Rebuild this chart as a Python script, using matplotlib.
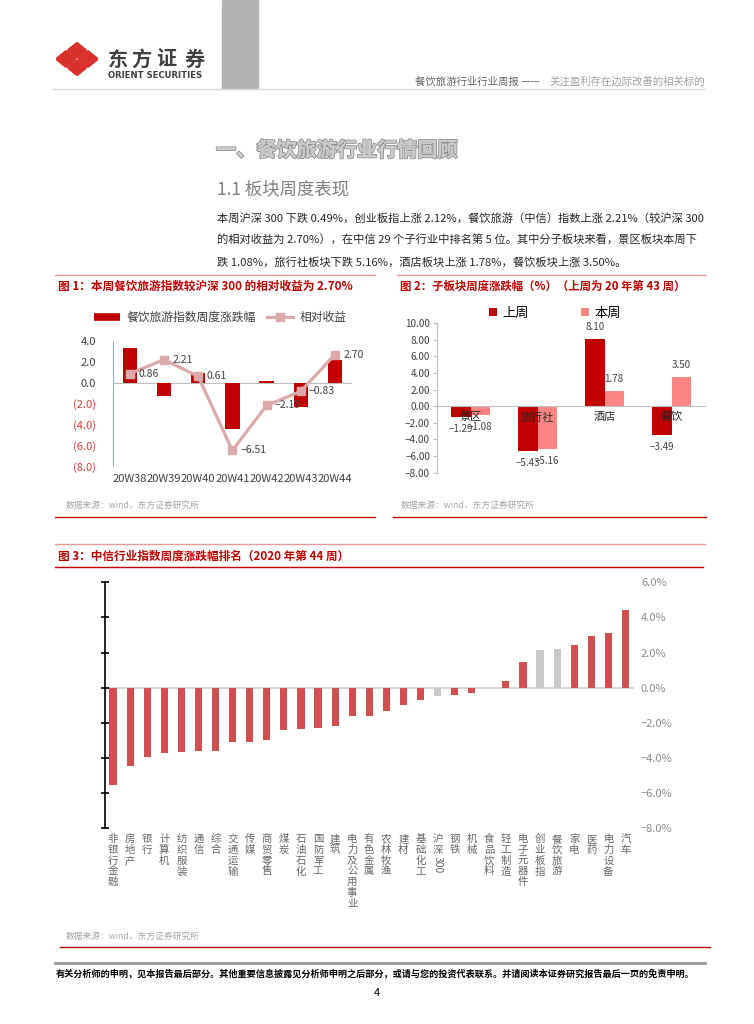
import matplotlib
matplotlib.use('Agg')
import matplotlib.pyplot as plt
import matplotlib.transforms as mtransforms
import matplotlib.patheffects as pe
from matplotlib.lines import Line2D
from matplotlib.patches import Polygon, Rectangle
import numpy as np

plt.rcParams['font.family'] = ['Noto Sans CJK SC', 'DejaVu Sans']
plt.rcParams['axes.unicode_minus'] = True

# ---- data ----
# figure 1: weekly change of the catering & tourism index and relative return vs CSI300
weeks = ['20W38', '20W39', '20W40', '20W41', '20W42', '20W43', '20W44']
index_chg = [3.30, -1.28, 0.96, -4.48, 0.16, -2.37, 2.21]
relative_ret = [0.86, 2.21, 0.61, -6.51, -2.19, -0.83, 2.70]
f1_ticks = [4, 2, 0, -2, -4, -6, -8]
f1_ticklabels = ['4.0', '2.0', '0.0', '(2.0)', '(4.0)', '(6.0)', '(8.0)']

# figure 2: sub-sector weekly change (%)
sectors = ['景区', '旅行社', '酒店', '餐饮']
last_week = [-1.29, -5.43, 8.10, -3.49]
this_week = [-1.08, -5.16, 1.78, 3.50]

# figure 3: CITIC industries weekly change ranking (%)
industries = ['非银行金融', '房地产', '银行', '计算机', '纺织服装', '通信', '综合',
              '交通运输', '传媒', '商贸零售', '煤炭', '石油石化', '国防军工', '建筑',
              '电力及公用事业', '有色金属', '农林牧渔', '建材', '基础化工', '沪深300',
              '钢铁', '机械', '食品饮料', '轻工制造', '电子元器件', '创业板指',
              '餐饮旅游', '家电', '医药', '电力设备', '汽车']
ind_chg = [-5.56, -4.44, -3.94, -3.70, -3.68, -3.62, -3.60, -3.10, -3.07, -2.99,
           -2.42, -2.36, -2.27, -2.17, -1.62, -1.62, -1.31, -1.01, -0.69, -0.49,
           -0.42, -0.29, -0.04, 0.38, 1.47, 2.12, 2.21, 2.42, 2.95, 3.12, 4.42]
highlight = ['沪深300', '创业板指', '餐饮旅游']

paragraph = ['本周沪深 300 下跌 0.49%，创业板指上涨 2.12%，餐饮旅游（中信）指数上涨 2.21%（较沪深 300',
             '的相对收益为 2.70%），在中信 29 个子行业中排名第 5 位。其中分子板块来看，景区板块本周下',
             '跌 1.08%，旅行社板块下跌 5.16%，酒店板块上涨 1.78%，餐饮板块上涨 3.50%。']

W, H = 754, 1024
fig = plt.figure(figsize=(W / 100, H / 100), dpi=100)


def fx(x):
    return x / W


def fy(y):
    return 1 - y / H


def hline(x0, x1, y, color, lw):
    fig.add_artist(Line2D([fx(x0), fx(x1)], [fy(y), fy(y)], color=color, lw=lw,
                          transform=fig.transFigure))


def box(x0, y0, x1, y1):
    return fig.add_axes([fx(x0), fy(y1), (x1 - x0) / W, (y1 - y0) / H])


# ---- page header ----
fig.add_artist(Rectangle((fx(222), fy(88)), (258 - 222) / W, 88 / H, color='#b3b3b3',
                         transform=fig.transFigure))
hline(53, 705, 88.5, '#d9d9d9', 1.0)

lg = box(56, 42, 98, 76)
lg.set_xlim(-1, 1)
lg.set_ylim(-1, 1)
lg.axis('off')
for cx, cy, r in [(0, 0.52, 0.38), (0, -0.52, 0.38), (-0.52, 0, 0.42), (0.52, 0, 0.42)]:
    lg.add_patch(Polygon([(cx, cy + r), (cx + r, cy), (cx, cy - r), (cx - r, cy)],
                         closed=True, color='#d9312b', lw=2.5, joinstyle='round'))
for ch, cx in zip('东方证券', [117.5, 141, 166, 194.5]):
    fig.text(fx(cx), fy(59), ch, ha='center', va='center', fontsize=14.5,
             fontweight='bold', color='#3f3f3f')
fig.text(fx(108), fy(75.5), 'ORIENT SECURITIES', ha='left', va='center', fontsize=6.1,
         fontweight='bold', color='#3f3f3f', family='DejaVu Sans')
fig.text(fx(415), fy(82), '餐饮旅游行业行业周报 ——', ha='left', va='center',
         fontsize=7.5, color='#666666')
fig.text(fx(705), fy(82), '关注盈利存在边际改善的相关标的', ha='right', va='center',
         fontsize=7.5, color='#a0a0a0')

# ---- section text ----
fig.text(fx(216), fy(150), '一、餐饮旅游行业行情回顾', ha='left', va='center', fontsize=14.5,
         fontweight='bold', color='#cccccc',
         path_effects=[pe.withStroke(linewidth=1.3, foreground='#8c8c8c'), pe.Normal()])
fig.text(fx(217), fy(189), '1.1 板块周度表现', ha='left', va='center', fontsize=12.5,
         color='#7f7f7f')
for i, line in enumerate(paragraph):
    fig.text(fx(217), fy(218 + 22 * i), line, ha='left', va='center', fontsize=8.1,
             color='#262626')

# ---- figure headers / footers ----
red = '#c00000'
hline(55, 375, 275, '#e89a9a', 1.0)
hline(397, 705, 275, '#e89a9a', 1.0)
fig.text(fx(58), fy(286), '图 1：本周餐饮旅游指数较沪深 300 的相对收益为 2.70%', ha='left',
         va='center', fontsize=8.4, fontweight='bold', color=red)
fig.text(fx(400), fy(286), '图 2：子板块周度涨跌幅（%）（上周为 20 年第 43 周）', ha='left',
         va='center', fontsize=8.2, fontweight='bold', color=red)
fig.text(fx(66), fy(505), '数据来源：wind，东方证券研究所', ha='left', va='center',
         fontsize=6.3, color='#a6a6a6')
fig.text(fx(401), fy(505), '数据来源：wind，东方证券研究所', ha='left', va='center',
         fontsize=6.3, color='#a6a6a6')
hline(55, 375, 517, red, 1.0)
hline(393, 706, 517, red, 1.0)

hline(55, 705, 544, '#e89a9a', 1.0)
fig.text(fx(58), fy(556), '图 3：中信行业指数周度涨跌幅排名（2020 年第 44 周）', ha='left',
         va='center', fontsize=8.4, fontweight='bold', color=red)
hline(55, 703, 567, red, 1.0)
fig.text(fx(66), fy(936), '数据来源：wind，东方证券研究所', ha='left', va='center',
         fontsize=6.3, color='#a6a6a6')
hline(60, 710, 947, red, 1.0)

hline(55, 705, 963, '#999999', 2.0)
fig.text(fx(56), fy(973), '有关分析师的申明，见本报告最后部分。其他重要信息披露见分析师申明之后部分，'
         '或请与您的投资代表联系。并请阅读本证券研究报告最后一页的免责申明。',
         ha='left', va='center', fontsize=6.6, fontweight='bold', color='black')
fig.text(fx(377), fy(993), '4', ha='center', va='center', fontsize=8, color='black')

# ---- figure 1 ----
ax1 = box(112.7, 341, 352, 466)
x1 = np.arange(len(weeks))
b1 = ax1.bar(x1, index_chg, width=0.42, color=red, zorder=2)
l1, = ax1.plot(x1, relative_ret, color='#dcaaaa', lw=2.3, marker='s', ms=6, zorder=3)
for xi, v in zip(x1, relative_ret):
    ax1.annotate(f'{v:.2f}'.replace('-', '−'), (xi, v), xytext=(6, 0),
                 textcoords='offset points', ha='left', va='center', fontsize=7.5,
                 color='#404040', zorder=4)
ax1.axhline(0, color='#bfbfbf', lw=0.8, zorder=1)
ax1.set_xlim(-0.5, len(weeks) - 0.5)
ax1.set_ylim(-8, 4)
ax1.set_yticks(f1_ticks)
ax1.set_yticklabels(f1_ticklabels)
ax1.set_xticks(x1)
ax1.set_xticklabels(weeks)
ax1.tick_params(axis='both', length=0, labelsize=8, colors='#404040')
ax1.tick_params(axis='y', pad=12)
ax1.tick_params(axis='x', pad=6)
for t, v in zip(ax1.get_yticklabels(), f1_ticks):
    t.set_color('#404040' if v >= 0 else '#e03c3c')
for s in ['top', 'right', 'bottom']:
    ax1.spines[s].set_visible(False)
ax1.spines['left'].set_color('#8eb4e3')
bar_proxy = Line2D([], [], color=red, lw=5.5, solid_capstyle='butt')
ax1.legend([bar_proxy, l1], ['餐饮旅游指数周度涨跌幅', '相对收益'], ncol=2, loc='center',
           bbox_to_anchor=(0.45, 1.19), frameon=False, fontsize=8.5, handlelength=2.2,
           columnspacing=1.0, handletextpad=0.5, labelcolor='#404040')

# ---- figure 2 ----
ax2 = box(437, 323, 705, 472.7)
x2 = np.arange(len(sectors))
bw = 0.285
bl = ax2.bar(x2 - bw / 2, last_week, width=bw, color=red, zorder=2)
bt = ax2.bar(x2 + bw / 2, this_week, width=bw, color='#ff8585', zorder=2)
for xs, vals in [(x2 - bw / 2, last_week), (x2 + bw / 2, this_week)]:
    for xi, v in zip(xs, vals):
        ax2.annotate(f'{v:.2f}'.replace('-', '−'), (xi, v),
                     xytext=(0, 5 if v > 0 else -5), textcoords='offset points',
                     ha='center', va='bottom' if v > 0 else 'top', fontsize=7,
                     color='#404040', zorder=4)
ax2.set_xlim(-0.5, len(sectors) - 0.5)
ax2.set_ylim(-8, 10)
ax2.set_yticks(np.arange(-8, 11, 2))
ax2.set_yticklabels([f'{v:.2f}'.replace('-', '−') for v in np.arange(-8, 11, 2)])
ax2.set_xticks(x2)
ax2.set_xticklabels(sectors)
ax2.spines['bottom'].set_position(('data', 0))
for s in ['top', 'right']:
    ax2.spines[s].set_visible(False)
ax2.spines['left'].set_color('#bfbfbf')
ax2.spines['bottom'].set_color('#bfbfbf')
ax2.xaxis.set_zorder(5)
ax2.tick_params(axis='y', length=3, color='#bfbfbf', labelsize=7.2, labelcolor='#404040',
                pad=2)
ax2.tick_params(axis='x', length=0, labelsize=8, labelcolor='#262626', pad=4)
ax2.legend([bl, bt], ['上周', '本周'], ncol=2, loc='center', bbox_to_anchor=(0.44, 1.067),
           frameon=False, fontsize=9.5, handlelength=0.6, handleheight=0.6,
           columnspacing=4.0, handletextpad=0.4)

# ---- figure 3 ----
ax3 = box(104.5, 582.3, 634, 828.3)
x3 = np.arange(len(industries))
colors3 = ['#c9c9c9' if n in highlight else '#d24f4f' for n in industries]
ax3.bar(x3, ind_chg, width=0.42, color=colors3, zorder=2)
ax3.axhline(0, color='#d9d9d9', lw=1.5, zorder=1)
ax3.set_xlim(-0.5, len(industries) - 0.5)
ax3.set_ylim(-8, 6)
ax3.set_yticks(np.arange(-8, 7, 2))
ax3.set_yticklabels([f'{v:.1f}%'.replace('-', '−') for v in np.arange(-8, 7, 2)])
ax3.set_xticks([])
ax3.tick_params(axis='y', left=True, right=False, labelleft=False, labelright=True,
                direction='inout', length=6, width=1.2, color='black',
                labelcolor='#8c8c8c', labelsize=8, pad=2)
for s in ['top', 'right', 'bottom']:
    ax3.spines[s].set_visible(False)
ax3.spines['left'].set_linewidth(1.2)
trans = mtransforms.blended_transform_factory(ax3.transData, fig.transFigure)
for i, name in enumerate(industries):
    if name == '沪深300':
        ax3.text(i, fy(834), '沪\n深', transform=trans, ha='center', va='top',
                 fontsize=7.5, color='#666666', linespacing=1.1)
        ax3.text(i, fy(856), '300', transform=trans, ha='center', va='top',
                 fontsize=7.5, color='#666666', rotation=270)
    else:
        ax3.text(i, fy(834), '\n'.join(name), transform=trans, ha='center', va='top',
                 fontsize=7.5, color='#666666', linespacing=1.1)

fig.savefig('out.png', dpi=100)
